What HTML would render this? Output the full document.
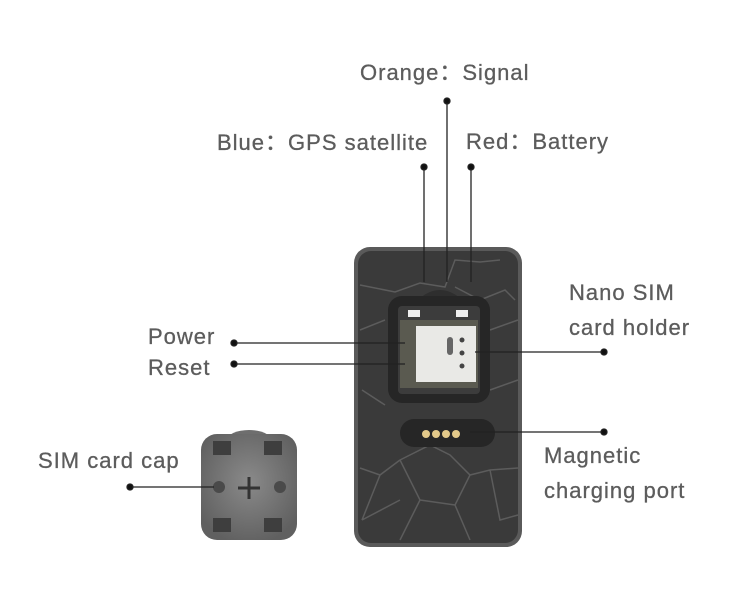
<!DOCTYPE html>
<html><head><meta charset="utf-8"><style>
body{margin:0;width:733px;height:610px;background:#fff;position:relative;overflow:hidden;font-family:"Liberation Sans","Noto Sans CJK SC",sans-serif;}
.t{position:absolute;color:#5c5c5c;font-size:22px;white-space:nowrap;letter-spacing:1px;line-height:1;-webkit-text-stroke:0.3px #5c5c5c;}
svg{position:absolute;left:0;top:0;}
</style></head><body>
<svg width="733" height="610" viewBox="0 0 733 610">
<defs>
<radialGradient id="cg" cx="50%" cy="45%" r="60%"><stop offset="0" stop-color="#8a8a8a"/><stop offset="1" stop-color="#606060"/></radialGradient>
</defs>
<ellipse cx="249" cy="440" rx="22" ry="10" fill="#6e6e6e"/>
<rect x="201" y="434" width="96" height="106" rx="16" fill="url(#cg)"/>
<rect x="213" y="441" width="18" height="14" fill="#3e3e3e"/>
<rect x="264" y="441" width="18" height="14" fill="#3e3e3e"/>
<rect x="213" y="518" width="18" height="14" fill="#3e3e3e"/>
<rect x="264" y="518" width="18" height="14" fill="#3e3e3e"/>
<circle cx="219" cy="487" r="6" fill="#4a4a4a"/><circle cx="280" cy="487" r="6" fill="#4a4a4a"/>
<path d="M249 477v22M238 488h22" stroke="#333" stroke-width="3"/>
<rect x="354" y="247" width="168" height="300" rx="16" fill="#5a5a5a"/>
<rect x="358" y="251" width="160" height="292" rx="13" fill="#3a3a3a"/>
<g stroke="#5c5c5c" stroke-width="1.5" fill="none">
<path d="M360 285L395 292L420 283L445 287L455 260L480 262L500 260M455 287L480 300L505 290L515 300M360 330L385 320M490 330L518 320M362 390L385 405M490 390L518 380M400 460L380 475L360 468M400 460L430 445L450 455L470 475L490 470L518 468M470 475L455 505L470 540M400 460L420 500L400 540M420 500L455 505M362 520L400 500M490 470L500 520L518 515M380 475L362 520"/>
</g>
<path d="M420 298Q440 282 460 298Z" fill="#2e2e2e"/>
<rect x="388" y="296" width="102" height="107" rx="14" fill="#262626"/>
<rect x="398" y="306" width="82" height="88" rx="4" fill="#3c3c3c"/>
<rect x="400" y="320" width="78" height="68" fill="#5a5a50"/>
<rect x="416" y="326" width="60" height="56" fill="#e9e9e6"/>
<circle cx="462" cy="340" r="2.5" fill="#444"/><circle cx="462" cy="353" r="2.5" fill="#444"/><circle cx="462" cy="366" r="2.5" fill="#444"/>
<rect x="447" y="337" width="6" height="18" rx="3" fill="#666"/>
<rect x="408" y="310" width="12" height="7" fill="#eee"/><rect x="456" y="310" width="12" height="7" fill="#eee"/>
<rect x="400" y="419" width="95" height="28" rx="14" fill="#262626"/>
<circle cx="426" cy="434" r="4" fill="#e3c98a"/><circle cx="436" cy="434" r="4" fill="#e3c98a"/><circle cx="446" cy="434" r="4" fill="#e3c98a"/><circle cx="456" cy="434" r="4" fill="#e3c98a"/>
<g stroke="#222" stroke-width="1.3" fill="#111">
<line x1="447" y1="101" x2="447" y2="282"/><circle cx="447" cy="101" r="3"/>
<line x1="424" y1="167" x2="424" y2="282"/><circle cx="424" cy="167" r="3"/>
<line x1="471" y1="167" x2="471" y2="282"/><circle cx="471" cy="167" r="3"/>
<line x1="234" y1="343" x2="405" y2="343"/><circle cx="234" cy="343" r="3"/>
<line x1="234" y1="364" x2="405" y2="364"/><circle cx="234" cy="364" r="3"/>
<line x1="475" y1="352" x2="604" y2="352"/><circle cx="604" cy="352" r="3"/>
<line x1="470" y1="432" x2="604" y2="432"/><circle cx="604" cy="432" r="3"/>
<line x1="130" y1="487" x2="214" y2="487"/><circle cx="130" cy="487" r="3"/>
</g>
</svg>
<div class="t" style="left:360px;top:62px">Orange：Signal</div>
<div class="t" style="left:217px;top:132px">Blue：GPS satellite</div>
<div class="t" style="left:466px;top:131px">Red：Battery</div>
<div class="t" style="left:148px;top:326px">Power</div>
<div class="t" style="left:148px;top:357px">Reset</div>
<div class="t" style="left:569px;top:282px">Nano SIM</div>
<div class="t" style="left:569px;top:317px">card holder</div>
<div class="t" style="left:544px;top:445px">Magnetic</div>
<div class="t" style="left:544px;top:480px">charging port</div>
<div class="t" style="left:38px;top:450px">SIM card cap</div>
</body></html>
